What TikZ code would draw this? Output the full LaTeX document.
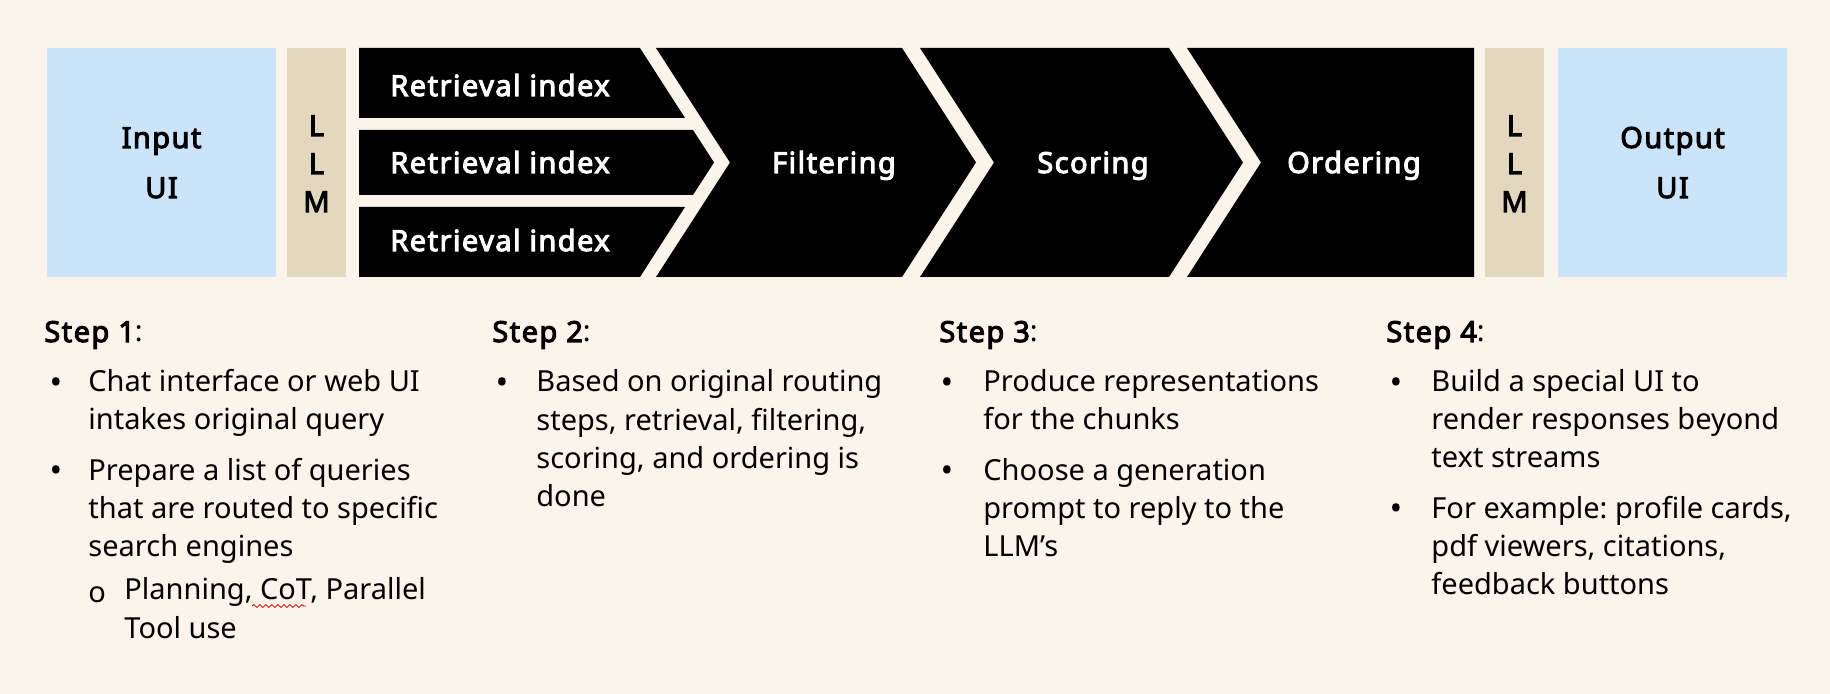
\documentclass[tikz,border=0pt]{standalone}
\usepackage{fontspec}
\setmainfont{Noto Sans}
\newfontfamily\labelfont{Noto Sans}[FakeBold=3.5, LetterSpace=5]
\usetikzlibrary{decorations.pathmorphing}
\frenchspacing

\definecolor{paper}{HTML}{FBF4EA}
\definecolor{uiblue}{HTML}{CBE4F9}
\definecolor{llmtan}{HTML}{E3D7BF}

\tikzset{
  boxlabel/.style={font=\labelfont\fontsize{14.5}{25}\selectfont, align=center, inner sep=0pt, anchor=base},
  letterlabel/.style={boxlabel, font=\labelfont\fontsize{14.5}{19}\selectfont},
  whitelabel/.style={boxlabel, text=white},
  stephead/.style={anchor=base west, inner sep=0pt, font=\fontsize{14.5}{19}\selectfont},
  steptext/.style={anchor=base west, align=left, inner sep=0pt, font=\fontsize{14.5}{19.2}\selectfont},
  bulletmark/.style={anchor=base west, inner sep=0pt, font=\labelfont\fontsize{14.5}{19}\selectfont},
  circlemark/.style={anchor=base west, inner sep=0pt, font=\fontsize{14.5}{19}\selectfont},
}

\begin{document}
\begin{tikzpicture}[x=0.5pt,y=-0.5pt]

\fill[paper] (0,0) rectangle (1830,694);

% input side (base = last line)
\fill[uiblue] (47,48) rectangle (276,277);
\node[boxlabel] (inputui) at (161.5,198) {Input\\UI};
\fill[llmtan] (287,48) rectangle (346,277);
\node[letterlabel] (llmin) at (316.5,212) {L\\L\\M};

% retrieval indexes
\fill (359,48) -- (640,48) -- (685,118) -- (359,118) -- cycle;
\fill (359,130) -- (693,130) -- (714,162.5) -- (693,195) -- (359,195) -- cycle;
\fill (359,207) -- (685,207) -- (640,277) -- (359,277) -- cycle;
\node[whitelabel] (index1) at (500,96) {Retrieval index};
\node[whitelabel] (index2) at (500,173) {Retrieval index};
\node[whitelabel] (index3) at (500,251) {Retrieval index};

% chevrons
\fill (656,48) -- (902,48) -- (976,162.5) -- (902,277) -- (656,277) -- (730,162.5) -- cycle;
\fill (920,48) -- (1169,48) -- (1243,162.5) -- (1169,277) -- (920,277) -- (994,162.5) -- cycle;
\fill (1187,48) -- (1474,48) -- (1474,277) -- (1187,277) -- (1261,162.5) -- cycle;
\node[whitelabel] (filtering) at (834,173) {Filtering};
\node[whitelabel] (scoring) at (1093,173) {Scoring};
\node[whitelabel] (ordering) at (1354,173) {Ordering};

% output side
\fill[llmtan] (1485,48) rectangle (1544,277);
\node[letterlabel] (llmout) at (1514.5,212) {L\\L\\M};
\fill[uiblue] (1558,48) rectangle (1787,277);
\node[boxlabel] (outputui) at (1672.5,198) {Output\\UI};

% step 1
\node[stephead] (step1) at (44,342) {{\labelfont Step 1}:};
\node[bulletmark] (dot1a) at (50,392) {•};
\node[steptext] (text1a) at (88,430) {Chat interface or web UI\\intakes original query};
\node[bulletmark] (dot1b) at (50,480) {•};
\node[steptext] (text1b) at (88,557) {Prepare a list of queries\\that are routed to specific\\search engines};
\node[circlemark] (dot1c) at (88,602) {o};
\node[steptext] (text1c) at (124,638) {Planning, CoT, Parallel\\Tool use};
\draw[red!85!black, line width=0.4pt, decorate, decoration={snake, amplitude=0.7pt, segment length=3pt}] (252,606) -- (306,606);

% step 2
\node[stephead] (step2) at (492,342) {{\labelfont Step 2}:};
\node[bulletmark] (dot2a) at (496,392) {•};
\node[steptext] (text2a) at (536,507) {Based on original routing\\steps, retrieval, filtering,\\scoring, and ordering is\\done};

% step 3
\node[stephead] (step3) at (939,342) {{\labelfont Step 3}:};
\node[bulletmark] (dot3a) at (941,392) {•};
\node[steptext] (text3a) at (983,430) {Produce representations\\for the chunks};
\node[bulletmark] (dot3b) at (941,480) {•};
\node[steptext] (text3b) at (983,557) {Choose a generation\\prompt to reply to the\\LLM’s};

% step 4
\node[stephead] (step4) at (1386,342) {{\labelfont Step 4}:};
\node[bulletmark] (dot4a) at (1390,392) {•};
\node[steptext] (text4a) at (1431,468) {Build a special UI to\\render responses beyond\\text streams};
\node[bulletmark] (dot4b) at (1390,518) {•};
\node[steptext] (text4b) at (1431,595) {For example: profile cards,\\pdf viewers, citations,\\feedback buttons};

\end{tikzpicture}
\end{document}
